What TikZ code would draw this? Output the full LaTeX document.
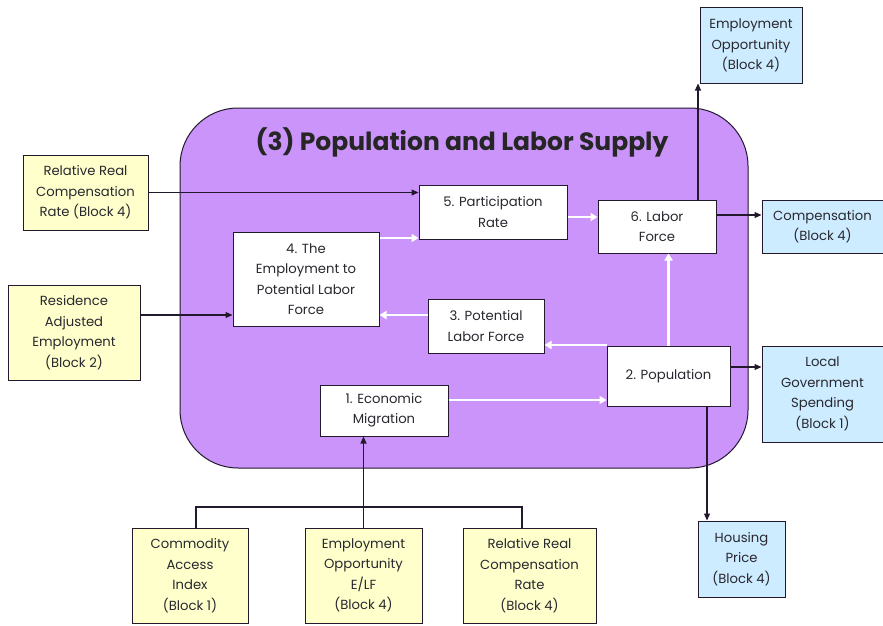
\documentclass[tikz,border=0pt]{standalone}
\usepackage{fontspec}
\setmainfont{Poppins}
\usetikzlibrary{arrows.meta}
\definecolor{purp}{RGB}{203,148,250}
\definecolor{yel}{RGB}{255,255,204}
\definecolor{blu}{RGB}{206,236,255}
\definecolor{edge}{RGB}{35,25,45}
\definecolor{txt}{RGB}{40,40,48}
\begin{document}
\begin{tikzpicture}[x=1pt,y=1pt,
  box/.style={draw=edge,line width=1pt,inner sep=0pt,align=center,text=txt,
    font=\fontsize{13.2}{20.5}\selectfont},
  ybox/.style={box,fill=yel},
  bbox/.style={box,fill=blu},
  wbox/.style={box,fill=white},
  blk/.style={draw=edge,line width=1.1pt,-{Triangle[length=7pt,width=6pt]}},
  wht/.style={draw=white,line width=2.6pt,-{Triangle[length=7pt,width=8pt]}},
  plain/.style={draw=edge,line width=1.1pt}]
\useasboundingbox (0,0) rectangle (883,-626);
\fill[white] (0,0) rectangle (883,-626);
% main block
\draw[fill=purp,draw=edge,line width=1pt,rounded corners=58pt] (180,-108) rectangle (748,-468);
\node[font=\fontsize{25}{28}\selectfont\bfseries,text=black!85] (title) at (462,-142) {(3) Population and Labor Supply};
% boxes
\node[bbox,minimum width=102,minimum height=75] (eo) at (751,-45.5) {Employment\\Opportunity\\(Block 4)};
\node[ybox,minimum width=125,minimum height=75] (rrc) at (85.5,-192.5) {Relative Real\\Compensation\\Rate (Block 4)};
\node[ybox,minimum width=132,minimum height=95] (rae) at (74,-332.5) {Residence\\Adjusted\\Employment\\(Block 2)};
\node[wbox,minimum width=148,minimum height=54] (n5) at (493,-212) {5. Participation\\Rate};
\node[wbox,minimum width=118,minimum height=53] (n6) at (657,-226.5) {6. Labor\\Force};
\node[wbox,minimum width=146,minimum height=94] (n4) at (306,-279) {4. The\\Employment to\\Potential Labor\\Force};
\node[wbox,minimum width=116,minimum height=54] (n3) at (486,-326) {3. Potential\\Labor Force};
\node[wbox,minimum width=123,minimum height=60] (n2) at (668.5,-376) {2. Population};
\node[wbox,minimum width=128,minimum height=51] (n1) at (384,-410.5) {1. Economic\\Migration};
\node[bbox,minimum width=121,minimum height=53] (comp) at (822.5,-226.5) {Compensation\\(Block 4)};
\node[bbox,minimum width=121,minimum height=96] (lgs) at (822.5,-394) {Local\\Government\\Spending\\(Block 1)};
\node[bbox,minimum width=87,minimum height=76] (hp) at (741.5,-559) {Housing\\Price\\(Block 4)};
\node[ybox,minimum width=116,minimum height=95] (cai) at (190,-575.5) {Commodity\\Access\\Index\\(Block 1)};
\node[ybox,minimum width=117,minimum height=95] (eoe) at (363.5,-575.5) {Employment\\Opportunity\\E/LF\\(Block 4)};
\node[ybox,minimum width=133,minimum height=95] (rrc2) at (529.5,-575.5) {Relative Real\\Compensation\\Rate\\(Block 4)};
% black connectors
\draw[blk] (rrc.east) -- (n5.west |- rrc.east);
\draw[blk] ([yshift=17.5pt]rae.east) -- ([yshift=17.5pt]rae.east -| n4.west);
\draw[blk] (n6.north -| 698,0) -- (eo.south -| 698,0);
\draw[blk] (n6.east |- 0,-215) -- (comp.west |- 0,-215);
\draw[blk] (n2.east |- 0,-367) -- (lgs.west |- 0,-367);
\draw[blk] (n2.south -| 707,0) -- (hp.north -| 707,0);
\coordinate (jl) at (196,-507);
\coordinate (jr) at (522,-507);
\draw[plain] (cai.north -| jl) -- (jl) -- (jr) -- (rrc2.north -| jr);
\draw[blk] (eoe.north) -- (eoe.north |- n1.south);
% white connectors
\draw[wht] (n4.east |- 0,-238) -- (n5.west |- 0,-238);
\draw[wht] (n5.east |- 0,-217) -- (n6.west |- 0,-217);
\draw[wht] (n2.north) -- (n2.north |- n6.south);
\draw[wht] (n2.north west |- 0,-345) -- (n3.east |- 0,-345);
\draw[wht] (n3.west |- 0,-315) -- (n4.east |- 0,-315);
\draw[wht] (n1.east |- 0,-400) -- (n2.west |- 0,-400);
\end{tikzpicture}
\end{document}
